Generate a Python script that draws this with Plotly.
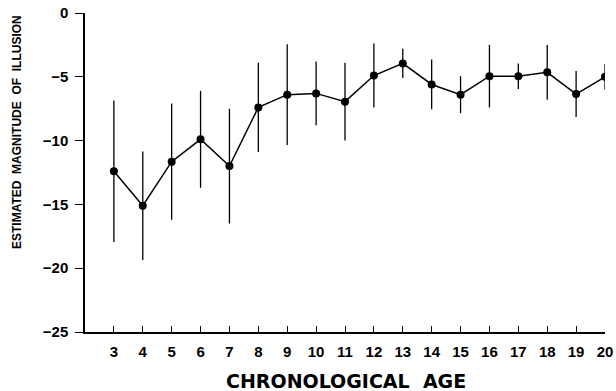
import plotly.graph_objects as go

ages = [3, 4, 5, 6, 7, 8, 9, 10, 11, 12, 13, 14, 15, 16, 17, 18, 19, 20]
magnitude = [-12.4, -15.1, -11.65, -9.9, -12.0, -7.4, -6.4, -6.3, -6.95, -4.9,
             -3.95, -5.6, -6.4, -4.95, -4.95, -4.65, -6.35, -5.0]
sd = [5.55, 4.25, 4.55, 3.8, 4.5, 3.5, 3.95, 2.5, 3.05, 2.5,
      1.15, 1.95, 1.45, 2.45, 1.0, 2.15, 1.8, 1.0]
y_ticks = [0, -5, -10, -15, -20, -25]

FONT = "Liberation Sans, Arial, sans-serif"

fig = go.Figure()
fig.add_trace(go.Scatter(
    x=ages, y=magnitude,
    mode="lines+markers",
    line=dict(color="black", width=1.5),
    marker=dict(color="black", size=8),
    error_y=dict(type="data", array=sd, visible=True, color="black",
                 thickness=1.3, width=0),
    showlegend=False,
))

fig.update_layout(
    width=616, height=391, autosize=False,
    margin=dict(l=85, r=11, t=13, b=59, autoexpand=False),
    paper_bgcolor="white", plot_bgcolor="white",
    font=dict(family=FONT, color="black"),
    xaxis=dict(
        range=[2, 20], tickmode="array", tickvals=ages,
        showline=True, linecolor="black", linewidth=1.5,
        ticks="inside", ticklen=6, tickwidth=1.2, tickcolor="black",
        showgrid=False, zeroline=False, automargin=False,
        tickfont=dict(family=FONT, size=15, weight="bold"),
        ticklabelstandoff=5, ticklabeloverflow="allow",
    ),
    yaxis=dict(
        range=[-25, 0], tickmode="array", tickvals=y_ticks,
        showline=True, linecolor="black", linewidth=1.5,
        ticks="outside", ticklen=8, tickwidth=1.2, tickcolor="black",
        showgrid=False, zeroline=False, automargin=False,
        tickfont=dict(family=FONT, size=15, weight="bold"),
        ticklabelstandoff=4, ticklabeloverflow="allow",
    ),
    annotations=[
        dict(text="CHRONOLOGICAL&nbsp;&nbsp;AGE", xref="paper", yref="paper",
             x=0.501, y=-0.1536, xanchor="center", yanchor="middle", showarrow=False,
             font=dict(family="DejaVu Sans", size=19, weight="bold")),
        dict(text="ESTIMATED&nbsp;&nbsp;MAGNITUDE&nbsp;&nbsp;OF&nbsp;&nbsp;ILLUSION", xref="paper", yref="paper",
             x=(17 - 85) / 520, y=0.627, xanchor="center", yanchor="middle",
             showarrow=False, textangle=-90,
             font=dict(family=FONT, size=12, weight="bold")),
    ],
)

fig.write_html(
    "out.html",
    config={"responsive": False, "displayModeBar": False},
    post_script="document.body.style.margin='0px';"
                "document.documentElement.style.overflow='hidden';"
                "document.body.style.overflow='hidden';",
)
